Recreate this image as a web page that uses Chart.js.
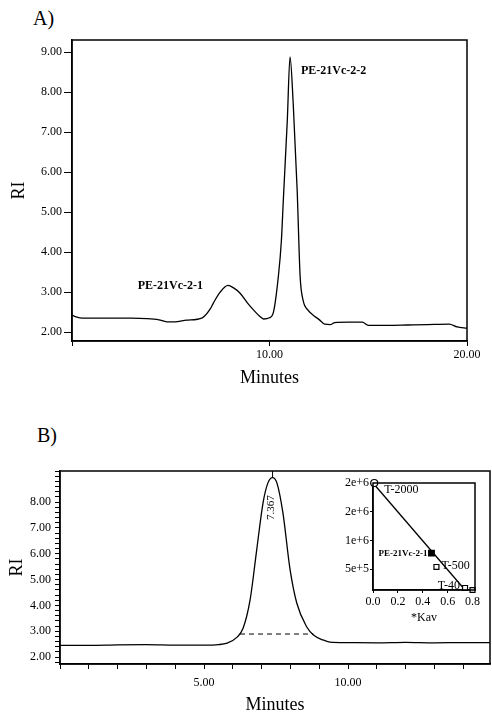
<!DOCTYPE html>
<html>
<head>
<meta charset="utf-8">
<script src="https://cdn.jsdelivr.net/npm/chart.js@4.4.0/dist/chart.umd.min.js"></script>
<style>
  body { margin: 0; background: #fff; width: 492px; height: 716px; position: relative; overflow: hidden; font-family: "Liberation Serif", serif; }
  canvas { position: absolute; }
  .tag { position: absolute; font-size: 20px; line-height: 20px; color: #000; }
</style>
</head>
<body>
<div class="tag" style="left:33px;top:8px">A)</div>
<div class="tag" style="left:37px;top:425px">B)</div>
<canvas id="chartA" width="492" height="400" style="left:0;top:0"></canvas>
<canvas id="chartB" width="492" height="316" style="left:0;top:400px"></canvas>
<canvas id="inset" width="174" height="160" style="left:318px;top:470px"></canvas>
<script>
// panel A chromatogram
const timeA = [0, 0.4, 1, 2, 3, 3.8, 4.4, 4.8, 5.2, 5.8, 6.6, 7.0, 7.15, 7.5, 7.9, 8.2, 8.5, 8.9, 9.2, 9.5,
  9.7, 10.0, 10.2, 10.45, 10.6, 10.7, 10.9, 11.04, 11.2, 11.4, 11.55, 11.7, 11.95, 12.2, 12.5,
  12.8, 13.1, 13.3, 14.0, 14.7, 15.0, 16, 17, 18, 19.1, 19.5, 20];
const riA = [2.42, 2.36, 2.35, 2.35, 2.35, 2.34, 2.31, 2.26, 2.26, 2.30, 2.36, 2.58, 2.72, 3.00, 3.17, 3.10, 2.98, 2.72, 2.55, 2.40,
  2.33, 2.36, 2.50, 3.40, 4.27, 5.30, 7.28, 8.88, 7.72, 5.56, 3.40, 2.80, 2.55, 2.43, 2.32,
  2.20, 2.19, 2.24, 2.25, 2.25, 2.17, 2.17, 2.18, 2.19, 2.20, 2.13, 2.10];
const yTicksA = [2, 3, 4, 5, 6, 7, 8, 9];
const xTicksA = [0, 10, 20];
const peakNamesA = ['PE-21Vc-2-1', 'PE-21Vc-2-2'];
const peakTimesA = [7.9, 11.04];
const peakRiA = [3.17, 8.88];

// panel B chromatogram
const timeB = [0, 1, 2, 3, 4, 5, 5.5, 5.8, 6.15, 6.36, 6.6, 6.83, 7.05, 7.22, 7.38, 7.53, 7.74, 7.99, 8.22, 8.57,
  8.8, 9.13, 9.37, 10, 11, 12, 13, 14, 14.93];
const riB = [2.45, 2.45, 2.47, 2.48, 2.46, 2.46, 2.48, 2.54, 2.77, 3.12, 4.21, 6.15, 7.97, 8.74, 8.94, 8.74, 7.58, 5.37, 4.09, 3.16,
  2.85, 2.66, 2.58, 2.56, 2.55, 2.57, 2.55, 2.56, 2.56];
const baseTimeB = [6.25, 8.8];
const baseRiB = [2.89, 2.89];
const peakTimeB = 7.38;
const peakRiB = 8.94;
const peakLabelB = '7.367';
const yLabelsB = [2, 3, 4, 5, 6, 7, 8];
const xLabelsB = [5, 10];

// inset: calibration
const stdNames = ['T-2000', 'PE-21Vc-2-1', 'T-500', 'T-40', ''];
const kav = [0.01, 0.47, 0.51, 0.74, 0.80];
const mw = [2.0e6, 7.8e5, 5.4e5, 1.75e5, 1.4e5];
const fitKav = [0, 0.74];
const fitMw = [2.0e6, 1.4e5];
const xTicksInset = [0, 0.2, 0.4, 0.6, 0.8];
const yTicksInset = [5e5, 1e6, 1.5e6, 2e6];

Chart.defaults.font.family = '"Liberation Serif", serif';
Chart.defaults.color = '#000';
Chart.defaults.animation = false;

const pts = (xs, ys) => xs.map((x, i) => ({ x: x, y: ys[i] }));

const frame = {
  id: 'frame',
  afterDraw(chart) {
    const a = chart.chartArea, ctx = chart.ctx;
    ctx.save();
    ctx.strokeStyle = '#000';
    ctx.lineWidth = 1.5;
    ctx.strokeRect(a.left, a.top, a.right - a.left, a.bottom - a.top);
    ctx.restore();
  }
};

function axisX(min, max, opts) {
  return Object.assign({
    type: 'linear', min: min, max: max,
    border: { display: true, color: '#000', width: 1.5 },
    grid: { drawOnChartArea: false, drawTicks: true, tickLength: 5, color: '#000' },
    ticks: { autoSkip: false, maxRotation: 0, font: { size: 12 }, padding: 3 }
  }, opts);
}

// ---- A ----
new Chart(document.getElementById('chartA'), {
  type: 'line',
  data: {
    datasets: [{
      data: pts(timeA, riA),
      borderColor: '#000', borderWidth: 1.3, pointRadius: 0,
      cubicInterpolationMode: 'monotone', fill: false
    }]
  },
  options: {
    responsive: false,
    layout: { padding: { left: 0, top: 40, right: 25, bottom: 11 } },
    plugins: { legend: { display: false }, tooltip: { enabled: false } },
    scales: {
      x: axisX(0, 20, {
        afterBuildTicks: s => { s.ticks = xTicksA.map(v => ({ value: v })); },
        afterFit: s => { s.height = 48; },
        ticks: { autoSkip: false, maxRotation: 0, font: { size: 12 }, padding: 2,
          callback: v => v === 0 ? '' : v.toFixed(2) },
        title: { display: true, text: 'Minutes', font: { size: 18 }, padding: 0 }
      }),
      y: {
        type: 'linear', min: 1.78, max: 9.3,
        afterBuildTicks: s => { s.ticks = yTicksA.map(v => ({ value: v })); },
        afterFit: s => { s.width = 72; },
        border: { display: true, color: '#000', width: 1.5 },
        grid: { drawOnChartArea: false, drawTicks: true, tickLength: 8, color: '#000' },
        ticks: { autoSkip: false, font: { size: 12 }, padding: 2, callback: v => v.toFixed(2) },
        title: { display: true, text: 'RI', font: { size: 18 }, padding: { top: 8, bottom: 0 } }
      }
    }
  },
  plugins: [frame, {
    id: 'peakNames',
    afterDatasetsDraw(chart) {
      const ctx = chart.ctx, sx = chart.scales.x, sy = chart.scales.y;
      ctx.save();
      ctx.font = 'bold 12px "Liberation Serif", serif';
      ctx.fillStyle = '#000';
      ctx.textBaseline = 'middle';
      peakNamesA.forEach((name, i) => {
        const px = sx.getPixelForValue(peakTimesA[i]);
        const py = sy.getPixelForValue(peakRiA[i]);
        if (i === 0) { ctx.textAlign = 'right'; ctx.fillText(name, px - 25, py + 1); }
        else { ctx.textAlign = 'left'; ctx.fillText(name, px + 11, py + 14); }
      });
      ctx.restore();
    }
  }]
});

// ---- B ----
const minorB = [];
for (let k = 9; k <= 46; k++) minorB.push(k / 5);

new Chart(document.getElementById('chartB'), {
  type: 'line',
  data: {
    datasets: [{
      data: pts(timeB, riB),
      borderColor: '#000', borderWidth: 1.3, pointRadius: 0,
      cubicInterpolationMode: 'monotone', fill: false
    }, {
      data: pts(baseTimeB, baseRiB),
      borderColor: '#000', borderWidth: 1, borderDash: [5, 4], pointRadius: 0, fill: false
    }]
  },
  options: {
    responsive: false,
    layout: { padding: { left: 0, top: 71, right: 2, bottom: 0 } },
    plugins: { legend: { display: false }, tooltip: { enabled: false } },
    scales: {
      x: axisX(0, 14.93, {
        afterBuildTicks: s => { s.ticks = Array.from({ length: 15 }, (_, i) => ({ value: i })); },
        afterFit: s => { s.height = 52; },
        grid: { drawOnChartArea: false, drawTicks: true, tickLength: 5, color: '#000' },
        ticks: { autoSkip: false, maxRotation: 0, font: { size: 12 }, padding: 7,
          callback: v => xLabelsB.includes(v) ? v.toFixed(2) : '' },
        title: { display: true, text: 'Minutes', font: { size: 18 }, padding: 0 }
      }),
      y: {
        type: 'linear', min: 1.73, max: 9.2,
        afterBuildTicks: s => { s.ticks = minorB.map(v => ({ value: v })); },
        afterFit: s => { s.width = 60; },
        border: { display: true, color: '#000', width: 1.5 },
        grid: { drawOnChartArea: false, drawTicks: true, tickLength: 5, color: '#000' },
        ticks: { autoSkip: false, font: { size: 12 }, padding: 4,
          callback: v => yLabelsB.some(m => Math.abs(m - v) < 1e-6) ? v.toFixed(2) : '' },
        title: { display: true, text: 'RI', font: { size: 18 }, padding: { top: 6, bottom: 0 } }
      }
    }
  },
  plugins: [frame, {
    id: 'peakMark',
    afterDatasetsDraw(chart) {
      const ctx = chart.ctx, sx = chart.scales.x, sy = chart.scales.y;
      const px = sx.getPixelForValue(peakTimeB), py = sy.getPixelForValue(peakRiB);
      ctx.save();
      ctx.strokeStyle = '#000';
      ctx.lineWidth = 1;
      ctx.beginPath();
      ctx.moveTo(px, chart.chartArea.top);
      ctx.lineTo(px, py);
      ctx.stroke();
      ctx.translate(px - 1, py + 30);
      ctx.rotate(-Math.PI / 2);
      ctx.font = '11px "Liberation Serif", serif';
      ctx.fillStyle = '#000';
      ctx.textAlign = 'center';
      ctx.textBaseline = 'middle';
      ctx.fillText(peakLabelB, 0, 0);
      ctx.restore();
    }
  }]
});

// ---- inset ----
const nameOffsets = [[10, 7, 'left'], [-4, 0, 'right'], [5, -1, 'left'], [-5, -2, 'right'], [0, 0, 'left']];

new Chart(document.getElementById('inset'), {
  type: 'scatter',
  data: {
    datasets: [{
      data: pts(kav, mw),
      pointStyle: ['circle', 'rect', 'rect', 'rect', 'rect'],
      pointRadius: [3.5, 4, 3.5, 3.5, 3.5],
      pointBackgroundColor: ['#fff', '#000', '#fff', '#fff', '#fff'],
      pointBorderColor: '#000', pointBorderWidth: 1.2,
      clip: false
    }, {
      type: 'line',
      data: pts(fitKav, fitMw),
      borderColor: '#000', borderWidth: 1.3, pointRadius: 0, fill: false, clip: false
    }]
  },
  options: {
    responsive: false,
    layout: { padding: { left: 0, top: 13, right: 17, bottom: 5 } },
    plugins: { legend: { display: false }, tooltip: { enabled: false } },
    scales: {
      x: {
        type: 'linear', min: 0, max: 0.82,
        afterBuildTicks: s => { s.ticks = xTicksInset.map(v => ({ value: v })); },
        afterFit: s => { s.height = 35; },
        border: { display: true, color: '#000', width: 1.5 },
        grid: { drawOnChartArea: false, drawTicks: true, tickLength: 3, color: '#000' },
        ticks: { autoSkip: false, maxRotation: 0, font: { size: 12 }, padding: 2, callback: v => v.toFixed(1) },
        title: { display: true, text: '*Kav', font: { size: 12 }, padding: 0 }
      },
      y: {
        type: 'linear', min: 1.4e5, max: 2.0e6,
        afterBuildTicks: s => { s.ticks = yTicksInset.map(v => ({ value: v })); },
        afterFit: s => { s.width = 55; },
        border: { display: true, color: '#000', width: 1.5 },
        grid: { drawOnChartArea: false, drawTicks: true, tickLength: 3, color: '#000' },
        ticks: { autoSkip: false, font: { size: 12 }, padding: 1, callback: v => v.toExponential(0) }
      }
    }
  },
  plugins: [frame, {
    id: 'stdNames',
    afterDatasetsDraw(chart) {
      const ctx = chart.ctx, sx = chart.scales.x, sy = chart.scales.y;
      ctx.save();
      ctx.fillStyle = '#000';
      ctx.textBaseline = 'middle';
      stdNames.forEach((name, i) => {
        if (!name) return;
        const o = nameOffsets[i];
        ctx.font = (i === 1 ? 'bold 9px' : '12px') + ' "Liberation Serif", serif';
        ctx.textAlign = o[2];
        ctx.fillText(name, sx.getPixelForValue(kav[i]) + o[0], sy.getPixelForValue(mw[i]) + o[1]);
      });
      ctx.restore();
    }
  }]
});
</script>
</body>
</html>
